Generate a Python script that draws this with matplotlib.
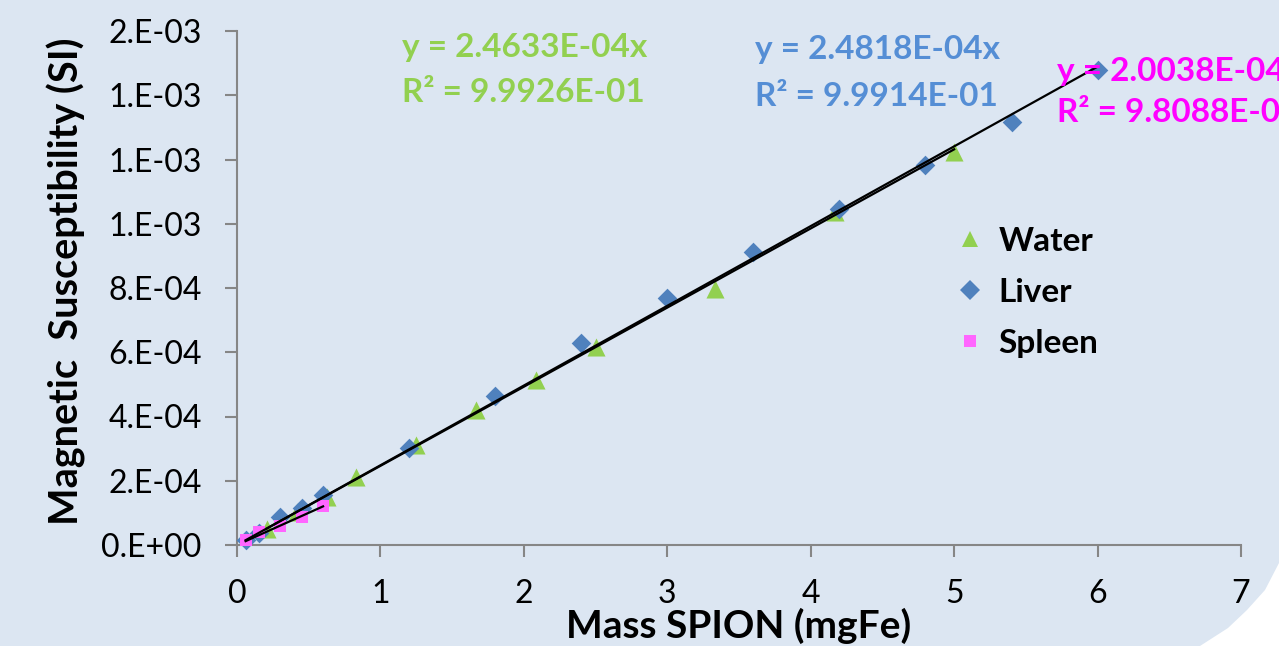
import matplotlib
matplotlib.use("Agg")
import matplotlib.pyplot as plt
import numpy as np
from matplotlib.patches import Polygon
from matplotlib.lines import Line2D

# ---------------- data ----------------
water_x = [0.208, 0.417, 0.625, 0.833, 1.25, 1.667, 2.083, 2.5, 3.333, 4.167, 5.0]
water_y = [4.9e-5, 1.03e-4, 1.49e-4, 2.12e-4, 3.12e-4, 4.20e-4, 5.14e-4, 6.16e-4, 7.97e-4, 1.037e-3, 1.223e-3]

liver_x = [0.06, 0.15, 0.3, 0.45, 0.6, 1.2, 1.8, 2.4, 3.0, 3.6, 4.2, 4.8, 5.4, 6.0]
liver_y = [1.6e-5, 3.7e-5, 8.7e-5, 1.15e-4, 1.56e-4, 3.02e-4, 4.64e-4, 6.29e-4,
           7.69e-4, 9.12e-4, 1.046e-3, 1.183e-3, 1.317e-3, 1.479e-3]

spleen_x = [0.06, 0.15, 0.3, 0.45, 0.6]
spleen_y = [1.6e-5, 4.0e-5, 5.9e-5, 8.7e-5, 1.21e-4]

slopes = {"Water": 2.4633e-4, "Liver": 2.4818e-4, "Spleen": 2.0038e-4}
r2 = {"Water": "9.9926E-01", "Liver": "9.9914E-01", "Spleen": "9.8088E-01"}
slope_txt = {"Water": "2.4633E-04", "Liver": "2.4818E-04", "Spleen": "2.0038E-04"}

y_ticks = [0, 2e-4, 4e-4, 6e-4, 8e-4, 1.0e-3, 1.2e-3, 1.4e-3, 1.6e-3]
y_tick_labels = ["0.E+00", "2.E-04", "4.E-04", "6.E-04", "8.E-04", "1.E-03", "1.E-03", "1.E-03", "2.E-03"]
x_ticks = [0, 1, 2, 3, 4, 5, 6, 7]

# ---------------- style ----------------
BG = "#dce6f2"
GREEN = "#92d050"
BLUE = "#4f81bd"
BLUE_TXT = "#558ed5"
MAG_TXT = "#ff00ff"
MAG = "#ff66ff"
GRAY = "#868686"
FONT = ["Lato", "DejaVu Sans"]
plt.rcParams["font.family"] = FONT

W, H = 1279, 646
fig = plt.figure(figsize=(W / 100, H / 100), dpi=100)
fig.patch.set_facecolor(BG)

# white corner at the bottom right
arc = [(1279, 563), (1265, 590), (1247, 610), (1228, 628), (1200, 646), (1279, 646)]
fig.patches.append(Polygon([(x / W, 1 - y / H) for x, y in arc], closed=True,
                           transform=fig.transFigure, facecolor="white",
                           edgecolor="none", zorder=0))

ax = fig.add_axes([237 / W, 1 - 545 / H, (1241 - 237) / W, (545 - 31) / H])
ax.set_facecolor("none")
ax.set_xlim(0, 7)
ax.set_ylim(0, 1.6e-3)

ax.scatter(water_x, water_y, marker="^", s=13 ** 2, color=GREEN, linewidths=0, zorder=3, clip_on=False)
ax.scatter(liver_x, liver_y, marker="D", s=10 ** 2, color=BLUE, linewidths=0, zorder=3, clip_on=False)
ax.scatter(spleen_x, spleen_y, marker="s", s=9 ** 2, color=MAG, linewidths=0, zorder=3, clip_on=False)

for name, xs in (("Water", water_x), ("Liver", liver_x), ("Spleen", spleen_x)):
    xx = np.array([min(xs), max(xs)])
    ax.plot(xx, slopes[name] * xx, color="black", lw=1.6, zorder=4, clip_on=False)

for s in ("top", "right"):
    ax.spines[s].set_visible(False)
for s in ("left", "bottom"):
    ax.spines[s].set_color(GRAY)
    ax.spines[s].set_linewidth(1.5)

ax.set_yticks(y_ticks)
ax.set_yticklabels(y_tick_labels)
ax.set_xticks(x_ticks)
ax.tick_params(axis="both", direction="out", length=8.5, width=1.5, color=GRAY,
               labelsize=23, labelcolor="black")
ax.tick_params(axis="y", pad=17)
ax.tick_params(axis="x", pad=16)

fig.text(66 / W, 1 - 281 / H, "Magnetic  Susceptibility (SI)", rotation=90,
         ha="center", va="center", fontsize=28.5, fontweight="bold")
fig.text(739 / W, 1 - 626 / H, "Mass SPION (mgFe)", ha="center", va="center",
         fontsize=28, fontweight="bold")

def eq(x, y1, y2, name, color):
    fig.text(x / W, 1 - y1 / H, f"y = {slope_txt[name]}x", ha="left", va="center",
             fontsize=24, fontweight="bold", color=color)
    fig.text(x / W, 1 - y2 / H, f"R² = {r2[name]}", ha="left", va="center",
             fontsize=24, fontweight="bold", color=color)

eq(402, 47, 92, "Water", GREEN)
eq(755, 50, 96, "Liver", BLUE_TXT)
eq(1057, 72, 113, "Spleen", MAG_TXT)

handles = [
    Line2D([], [], marker="^", ls="none", color=GREEN, markersize=12, markeredgewidth=0),
    Line2D([], [], marker="D", ls="none", color=BLUE, markersize=10, markeredgewidth=0),
    Line2D([], [], marker="s", ls="none", color=MAG, markersize=8, markeredgewidth=0),
]
leg = fig.legend(handles, ["Water", "Liver", "Spleen"], loc="upper left",
                 bbox_to_anchor=(950 / W, 1 - 227 / H), frameon=False,
                 prop={"family": FONT, "size": 24, "weight": "bold"},
                 labelspacing=0.66, handletextpad=0.25, handlelength=1.2,
                 borderpad=0, borderaxespad=0)

fig.savefig("out.png", dpi=100, facecolor=BG)
